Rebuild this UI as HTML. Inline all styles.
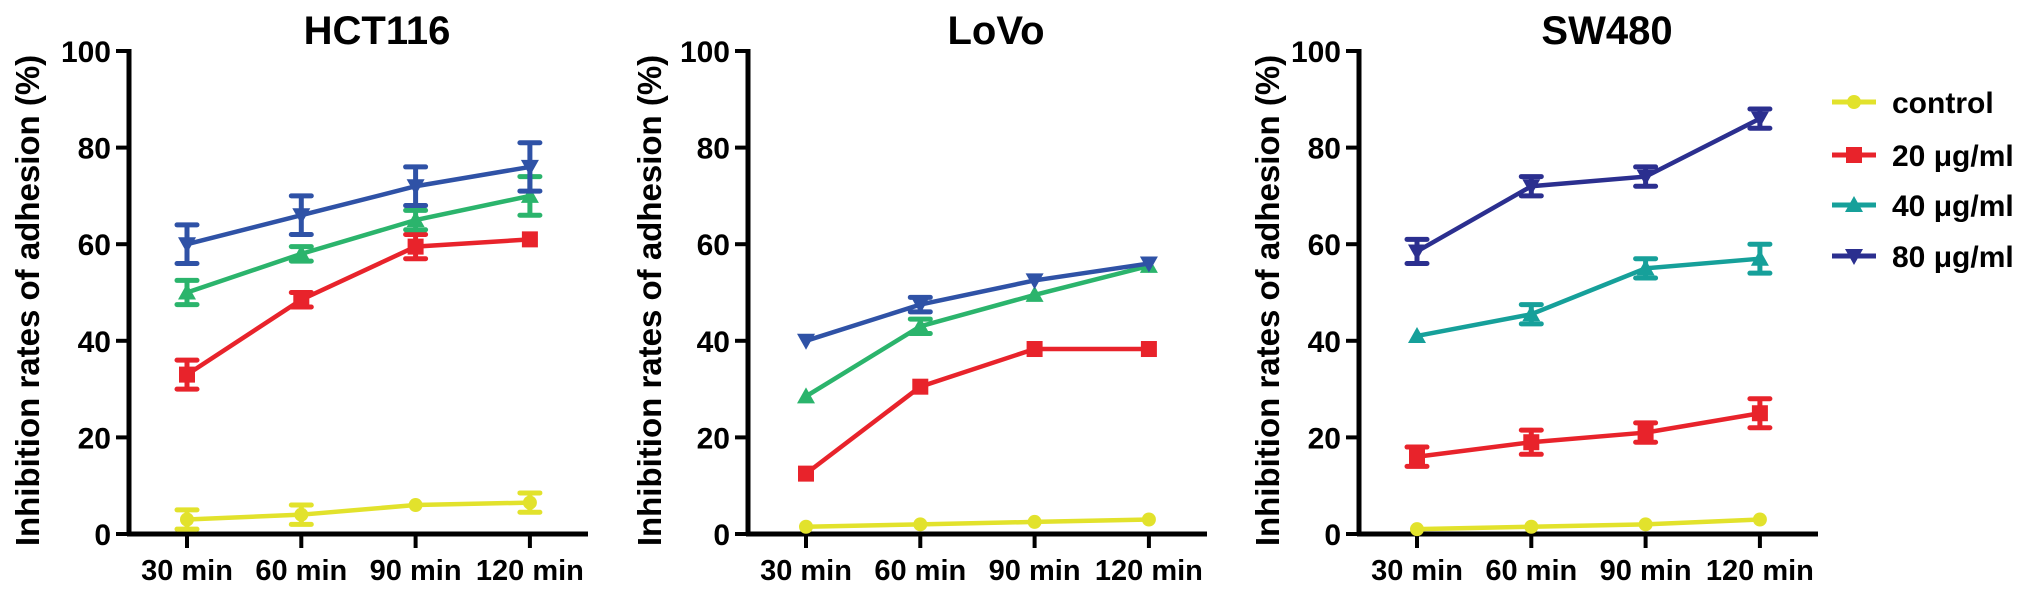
<!DOCTYPE html>
<html><head><meta charset="utf-8"><style>
html,body{margin:0;padding:0;background:#fff;}
svg{display:block;font-family:"Liberation Sans",Arial,sans-serif;font-weight:bold;}
</style></head><body>
<svg id="chart" width="2031" height="592" viewBox="0 0 2031 592" xmlns="http://www.w3.org/2000/svg"></svg>
<script>
const categories = ["30 min","60 min","90 min","120 min"];
const yTicks = [0,20,40,60,80,100];
const seriesNames = ["control","20 μg/ml","40 μg/ml","80 μg/ml"];
const panelTitles = ["HCT116","LoVo","SW480"];
// HCT116
const hctControl = [3,4,6,6.5];      const hctControlErr = [2,2,0.5,2];
const hct20 = [33,48.5,59.5,61];     const hct20Err = [3,1.5,2.5,0.5];
const hct40 = [50,58,65,70];         const hct40Err = [2.5,1.5,2,4];
const hct80 = [60,66,72,76];         const hct80Err = [4,4,4,5];
// LoVo
const lovoControl = [1.5,2,2.5,3];   const lovoControlErr = [0.3,0.3,0.3,0.3];
const lovo20 = [12.5,30.5,38.3,38.3];const lovo20Err = [0.5,0.5,0.5,0.5];
const lovo40 = [28.5,43,49.5,55.5];  const lovo40Err = [0.5,1.5,0.5,0.5];
const lovo80 = [40,47.5,52.5,56];    const lovo80Err = [0.5,1.5,0.5,0.5];
// SW480
const swControl = [1,1.5,2,3];       const swControlErr = [0.3,0.3,0.3,0.3];
const sw20 = [16,19,21,25];          const sw20Err = [2,2.5,2,3];
const sw40 = [41,45.5,55,57];        const sw40Err = [0.5,2,2,3];
const sw80 = [58.5,72,74,86];        const sw80Err = [2.5,2,2,2];

const NS="http://www.w3.org/2000/svg";
const svg=document.getElementById('chart');
function mk(tag,attrs,parent){const e=document.createElementNS(NS,tag);for(const k in attrs)e.setAttribute(k,attrs[k]);(parent||svg).appendChild(e);return e;}
const Y0=534, Y100=51;
function yScale(v){return Y0+(Y100-Y0)*v/100;}

const panels=[
 {ax:129,data:[hctControl,hct20,hct40,hct80],err:[hctControlErr,hct20Err,hct40Err,hct80Err],colors:["#e2e22c","#e8232b","#2bb46c","#2f52a6"],ytx:28},
 {ax:748,data:[lovoControl,lovo20,lovo40,lovo80],err:[lovoControlErr,lovo20Err,lovo40Err,lovo80Err],colors:["#e2e22c","#e8232b","#2bb46c","#2f52a6"],ytx:650},
 {ax:1359,data:[swControl,sw20,sw40,sw80],err:[swControlErr,sw20Err,sw40Err,sw80Err],colors:["#e2e22c","#e8232b","#16a09a","#2b2f8f"],ytx:1268}
];
function marker(g,kind,x,y,c){
  let m;
  if(kind===0) m=mk('circle',{cx:x,cy:y,r:7,fill:c},g);
  else if(kind===1) m=mk('rect',{x:x-8,y:y-8,width:16,height:16,fill:c},g);
  else if(kind===2) m=mk('polygon',{points:`${x},${y-9} ${x+9},${y+7} ${x-9},${y+7}`,fill:c},g);
  else m=mk('polygon',{points:`${x},${y+9} ${x+9},${y-7} ${x-9},${y-7}`,fill:c},g);
  return m;
}
panels.forEach((p,pi)=>{
  const g=mk('g',{});
  
  
  const xs=i=>p.ax+58+i*114.3;
  const axEnd=p.ax+459;
  const t=mk('text',{x:p.ax+248,y:44,'font-size':40,'text-anchor':'middle',fill:'#000'},g);
  t.textContent=panelTitles[pi];
  
  
  const ya=mk('line',{x1:p.ax,y1:Y100-2,x2:p.ax,y2:Y0+2,stroke:'#000','stroke-width':5},g);
  
  
  const xa=mk('line',{x1:p.ax-2,y1:Y0,x2:axEnd,y2:Y0,stroke:'#000','stroke-width':5},g);
  
  
  yTicks.forEach(v=>{
    mk('line',{x1:p.ax-13,y1:yScale(v),x2:p.ax,y2:yScale(v),stroke:'#000','stroke-width':4},g);
    const tl=mk('text',{x:p.ax-18,y:yScale(v)+11,'font-size':30,'text-anchor':'end',fill:'#000'},g);
    tl.textContent=v;
    
    
  });
  categories.forEach((c,i)=>{
    mk('line',{x1:xs(i),y1:Y0,x2:xs(i),y2:Y0+14,stroke:'#000','stroke-width':4},g);
    const tl=mk('text',{x:xs(i),y:580,'font-size':29,'text-anchor':'middle',fill:'#000'},g);
    tl.textContent=c;
    
    
  });
  const yt=mk('text',{x:0,y:0,'font-size':33,'text-anchor':'middle',fill:'#000',transform:`translate(${p.ytx+11},${(Y0+Y100)/2+8}) rotate(-90)`},g);
  yt.textContent='Inhibition rates of adhesion (%)';
  
  
  p.data.forEach((vals,si)=>{
    const c=p.colors[si];
    const sg=mk('g',{},g);
    
    
    mk('polyline',{points:vals.map((v,i)=>xs(i)+','+yScale(v)).join(' '),fill:'none',stroke:c,'stroke-width':4.5},sg);
    vals.forEach((v,i)=>{
      const e=p.err[si][i];
      if(e>=1){
        const x=xs(i),y1=yScale(v+e),y2=yScale(v-e);
        mk('line',{x1:x,y1:y1,x2:x,y2:y2,stroke:c,'stroke-width':5},sg);
        mk('line',{x1:x-10,y1:y1,x2:x+10,y2:y1,stroke:c,'stroke-width':5,'stroke-linecap':'round'},sg);
        mk('line',{x1:x-10,y1:y2,x2:x+10,y2:y2,stroke:c,'stroke-width':5,'stroke-linecap':'round'},sg);
      }
      const m=marker(sg,si,xs(i),yScale(v),c);
      
      
    });
  });
});
// legend
const legendY=[102,155,205,256];
const lg=mk('g',{});


seriesNames.forEach((n,i)=>{
  const c=panels[2].colors[i];
  const eg=mk('g',{},lg);
  
  
  mk('line',{x1:1832,y1:legendY[i],x2:1876,y2:legendY[i],stroke:c,'stroke-width':5},eg);
  marker(eg,i,1854,legendY[i],c);
  const t=mk('text',{x:1892,y:legendY[i]+11,'font-size':30,fill:'#000'},eg);
  t.textContent=n;
});
</script>
</body></html>
